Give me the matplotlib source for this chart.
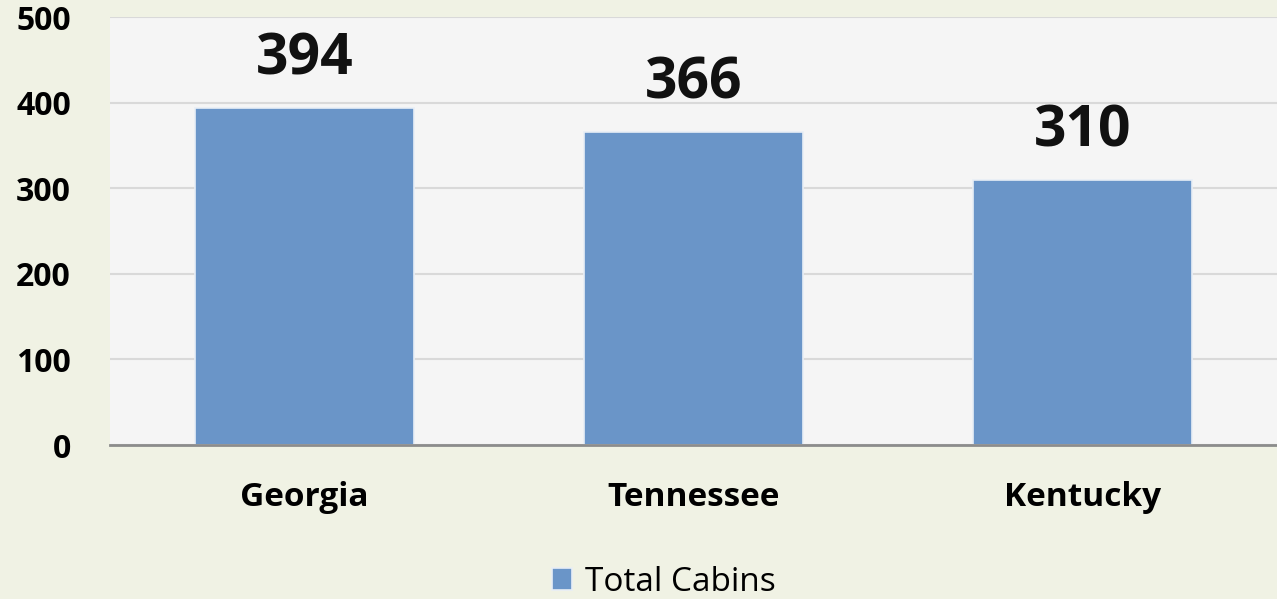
import matplotlib
matplotlib.use("Agg")
import matplotlib.pyplot as plt

states = ["Georgia", "Tennessee", "Kentucky"]
cabins = [394, 366, 310]
yticks = [0, 100, 200, 300, 400, 500]

plt.rcParams["font.family"] = ["Open Sans", "DejaVu Sans"]

fig = plt.figure(figsize=(12.77, 5.99), dpi=100, facecolor="#F0F2E4")
ax = fig.add_axes([0.0861, 0.257, 0.9139, 0.7146])
ax.set_facecolor("#F5F5F5")

x = list(range(len(states)))
bars = ax.bar(x, cabins, width=0.565, color="#6A95C8", edgecolor="#E8EEF6",
              linewidth=1.2, label="Total Cabins", zorder=3)

for xi, v in zip(x, cabins):
    ax.annotate(str(v), (xi, v), xytext=(0, 14), textcoords="offset points",
                ha="center", va="bottom", fontsize=41, fontweight="bold",
                color="#111111")

ax.set_xlim(-0.5, 2.5)
ax.set_ylim(0, 500)
ax.set_yticks(yticks)
ax.set_yticklabels([str(t) for t in yticks], fontsize=23, fontweight="bold")
ax.set_xticks(x)
ax.set_xticklabels(states, fontsize=24, fontweight="bold")
ax.tick_params(axis="y", length=0, pad=28)
ax.tick_params(axis="x", length=0, pad=26)

ax.grid(axis="y", color="#D9D9D9", linewidth=1.5, zorder=0)
for s in ["top", "right", "left"]:
    ax.spines[s].set_visible(False)
ax.spines["bottom"].set_color("#8C8C8C")
ax.spines["bottom"].set_linewidth(2)
ax.spines["bottom"].set_zorder(4)

fig.legend(handles=[bars], labels=["Total Cabins"], loc="center",
           bbox_to_anchor=(0.52, 0.028), frameon=False, fontsize=24,
           handlelength=0.6, handleheight=0.6, handletextpad=0.4,
           borderpad=0)

fig.savefig("out.png", dpi=100, facecolor=fig.get_facecolor())
